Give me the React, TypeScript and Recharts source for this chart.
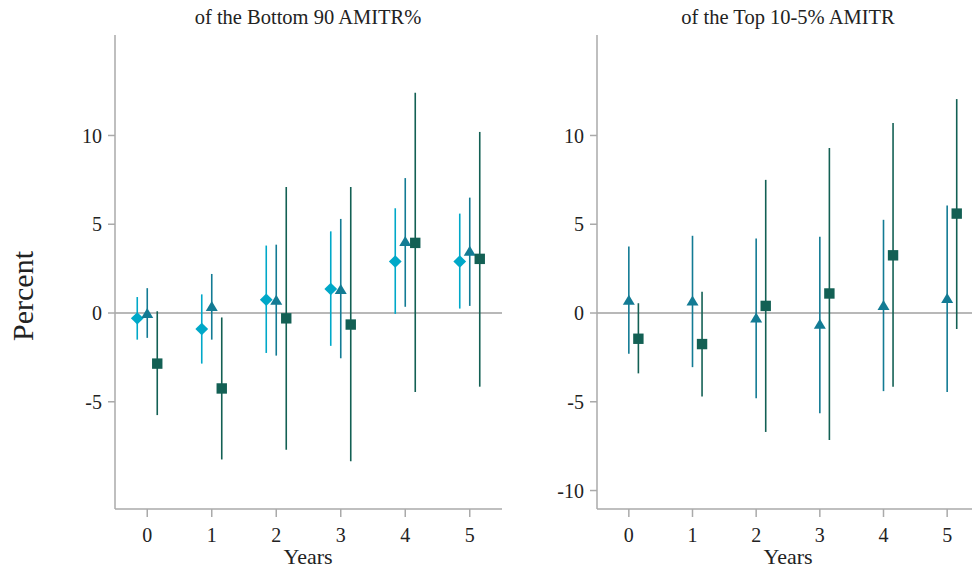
import React from 'react';
import { ComposedChart, Scatter, XAxis, YAxis, ErrorBar, ReferenceLine } from 'recharts';

const years = [0, 1, 2, 3, 4, 5];
const xTicks = [0, 1, 2, 3, 4, 5];
const yTicksLeft = [-5, 0, 5, 10];
const yTicksRight = [-10, -5, 0, 5, 10];

// Left panel: of the Bottom 90 AMITR%
const leftDiamondEst = [-0.3, -0.9, 0.75, 1.35, 2.9, 2.9];
const leftDiamondLo = [-1.5, -2.85, -2.25, -1.85, -0.05, 0.25];
const leftDiamondHi = [0.9, 1.05, 3.8, 4.6, 5.9, 5.6];

const leftTriEst = [0.0, 0.4, 0.75, 1.35, 4.05, 3.5];
const leftTriLo = [-1.4, -1.5, -2.4, -2.55, 0.35, 0.4];
const leftTriHi = [1.4, 2.2, 3.85, 5.3, 7.6, 6.5];

const leftSqEst = [-2.85, -4.25, -0.3, -0.65, 3.95, 3.05];
const leftSqLo = [-5.75, -8.25, -7.7, -8.35, -4.45, -4.15];
const leftSqHi = [0.1, -0.25, 7.1, 7.1, 12.4, 10.2];

// Right panel: of the Top 10-5% AMITR
const rightTriEst = [0.75, 0.7, -0.25, -0.6, 0.45, 0.85];
const rightTriLo = [-2.3, -3.05, -4.8, -5.65, -4.4, -4.45];
const rightTriHi = [3.75, 4.35, 4.2, 4.3, 5.25, 6.05];

const rightSqEst = [-1.45, -1.75, 0.4, 1.1, 3.25, 5.6];
const rightSqLo = [-3.4, -4.7, -6.7, -7.15, -4.15, -0.9];
const rightSqHi = [0.55, 1.2, 7.5, 9.3, 10.7, 12.05];

const C_DIAMOND = '#00a8c8';
const C_TRI = '#137b94';
const C_SQ = '#136054';
const AXIS = '#aaaaaa';
const FONT = '"Liberation Serif", "DejaVu Serif", serif';

function build(est: number[], lo: number[], hi: number[], dodge: number) {
  return years.map((yr, i) => ({
    x: yr + dodge,
    y: est[i],
    err: [est[i] - lo[i], hi[i] - est[i]],
  }));
}

const Diamond = (p: any) => {
  const { cx, cy, fill } = p;
  return <polygon points={`${cx},${cy - 6.2} ${cx + 6.4},${cy} ${cx},${cy + 6.2} ${cx - 6.4},${cy}`} fill={fill} />;
};
const Triangle = (p: any) => {
  const { cx, cy, fill } = p;
  return <polygon points={`${cx},${cy - 5} ${cx + 6},${cy + 5} ${cx - 6},${cy + 5}`} fill={fill} />;
};
const Square = (p: any) => {
  const { cx, cy, fill } = p;
  return <rect x={cx - 5.2} y={cy - 5.2} width={10.4} height={10.4} fill={fill} />;
};

const DOMAIN_Y: [number, number] = [-11.04, 15.66];

function Panel(props: { width: number; yTicks: number[]; series: any[] }) {
  return (
    <ComposedChart width={props.width} height={572} margin={{ top: 35, right: 8, bottom: 33, left: 0 }}>
      <XAxis
        type="number"
        dataKey="x"
        domain={[-0.5, 5.5]}
        ticks={xTicks}
        allowDataOverflow
        height={30}
        stroke={AXIS}
        strokeWidth={1.5}
        tickSize={8}
        tickMargin={11}
        tick={{ fontFamily: FONT, fontSize: 20, fill: '#222' }}
      />
      <YAxis
        type="number"
        dataKey="y"
        domain={DOMAIN_Y}
        ticks={props.yTicks}
        allowDataOverflow
        width={115}
        stroke={AXIS}
        strokeWidth={1.5}
        tickSize={7}
        tickMargin={6}
        tick={{ fontFamily: FONT, fontSize: 20, fill: '#222' }}
      />
      <ReferenceLine y={0} stroke="#a0a0a0" strokeWidth={1.5} />
      {props.series.map((s, i) => (
        <Scatter key={i} data={s.data} fill={s.color} shape={s.shape} isAnimationActive={false}>
          <ErrorBar dataKey="err" direction="y" width={0} stroke={s.color} strokeWidth={1.6} isAnimationActive={false} />
        </Scatter>
      ))}
    </ComposedChart>
  );
}

export default function App() {
  const leftSeries = [
    { data: build(leftDiamondEst, leftDiamondLo, leftDiamondHi, -0.155), color: C_DIAMOND, shape: Diamond },
    { data: build(leftTriEst, leftTriLo, leftTriHi, 0), color: C_TRI, shape: Triangle },
    { data: build(leftSqEst, leftSqLo, leftSqHi, 0.155), color: C_SQ, shape: Square },
  ];
  const rightSeries = [
    { data: build(rightTriEst, rightTriLo, rightTriHi, 0), color: C_TRI, shape: Triangle },
    { data: build(rightSqEst, rightSqLo, rightSqHi, 0.15), color: C_SQ, shape: Square },
  ];
  const textBase: React.CSSProperties = { position: 'absolute', fontFamily: FONT, color: '#222', whiteSpace: 'nowrap', lineHeight: 1 };
  return (
    <div style={{ position: 'absolute', left: 0, top: 0, width: 972, height: 572, overflow: 'hidden', background: '#fff' }}>
      <div style={{ position: 'absolute', left: 0, top: 0 }}>
        <Panel width={510} yTicks={yTicksLeft} series={leftSeries} />
      </div>
      <div style={{ position: 'absolute', left: 482, top: 0 }}>
        <Panel width={505} yTicks={yTicksRight} series={rightSeries} />
      </div>
      <div style={{ ...textBase, left: 308, top: 17, fontSize: 20.5, transform: 'translate(-50%, -50%)' }}>of the Bottom 90 AMITR%</div>
      <div style={{ ...textBase, left: 788, top: 17, fontSize: 20.5, transform: 'translate(-50%, -50%)' }}>of the Top 10-5% AMITR</div>
      <div style={{ ...textBase, left: 308, top: 557, fontSize: 22, transform: 'translate(-50%, -50%)' }}>Years</div>
      <div style={{ ...textBase, left: 788, top: 557, fontSize: 22, transform: 'translate(-50%, -50%)' }}>Years</div>
      <div style={{ ...textBase, left: 23, top: 296, fontSize: 30, transform: 'translate(-50%, -50%) rotate(-90deg)' }}>Percent</div>
    </div>
  );
}
